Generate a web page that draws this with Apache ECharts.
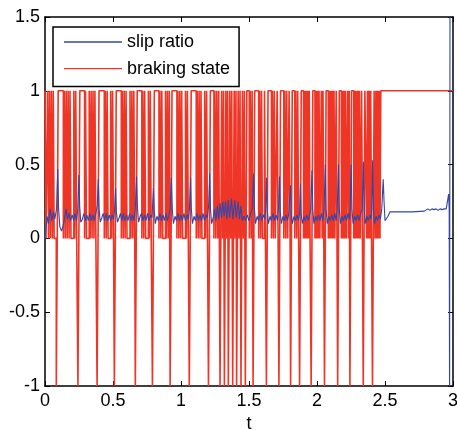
<!DOCTYPE html>
<html>
<head>
<meta charset="utf-8">
<script src="https://cdn.jsdelivr.net/npm/echarts@6/dist/echarts.min.js"></script>
<style>html,body{margin:0;padding:0;background:#fff;}#c{width:457px;height:430px;}</style>
</head>
<body>
<div id="c"></div>
<script>
// x-axis ticks / y-axis ticks
const xTicks = [0, 0.5, 1, 1.5, 2, 2.5, 3];
const yTicks = [-1, -0.5, 0, 0.5, 1, 1.5];

// braking state: switching times (t) and the value held from that time on
const brakeT = [
  0,0.007,0.019,0.026,0.033,0.040,0.047,0.054,0.061,0.067,0.083,0.097,
  0.135,0.142,0.149,0.156,0.163,0.170,0.177,0.184,0.191,0.212,0.219,0.226,0.233,0.242,0.256,
  0.291,0.298,0.305,0.325,0.332,0.339,0.346,0.353,0.360,0.367,0.374,0.383,0.397,
  0.436,0.443,0.450,0.457,0.464,0.483,0.490,0.497,0.504,0.510,0.524,
  0.561,0.568,0.575,0.582,0.589,0.596,0.603,0.625,0.632,0.639,0.646,0.653,0.660,0.664,0.678,
  0.712,0.719,0.726,0.733,0.740,0.760,0.767,0.774,0.781,0.790,0.804,
  0.838,0.845,0.852,0.859,0.866,0.886,0.893,0.900,0.907,0.914,0.920,0.934,
  0.970,0.977,0.984,0.991,0.998,1.005,1.012,1.033,1.040,1.047,1.054,1.061,1.075,
  1.112,1.119,1.126,1.133,1.140,1.147,1.154,1.174,1.181,1.188,1.195,1.202,1.216,
  1.242,1.249,1.256,1.263,1.270,1.277,1.287,1.299,
  1.306,1.313,1.319,1.330,1.337,1.343,1.348,1.359,1.366,1.373,1.380,1.391,1.398,1.404,1.409,1.420,1.427,1.434,1.441,1.452,1.459,1.466,1.473,1.484,
  1.502,1.509,1.516,1.523,1.530,1.542,
  1.571,1.578,1.585,1.592,1.599,1.614,1.621,1.628,1.640,
  1.665,1.672,1.679,1.686,1.693,1.707,1.714,1.720,1.732,
  1.756,1.763,1.770,1.777,1.784,1.795,1.802,1.806,1.818,
  1.837,1.844,1.851,1.858,1.865,1.872,1.884,
  1.901,1.907,1.913,1.919,1.925,1.931,1.937,1.943,1.949,1.957,1.969,
  1.985,1.991,1.997,2.003,2.009,2.015,2.021,2.032,2.038,2.044,2.050,2.055,2.067,
  2.083,2.089,2.095,2.101,2.107,2.113,2.119,2.125,2.131,2.141,2.147,2.152,2.164,
  2.179,2.185,2.191,2.197,2.203,2.209,2.215,2.225,2.231,2.237,2.242,2.254,
  2.270,2.276,2.282,2.288,2.294,2.300,2.306,2.312,2.318,2.328,2.334,2.340,2.352,
  2.365,2.371,2.377,2.383,2.389,2.395,2.401,2.408,2.420,
  2.427,2.433,2.439,2.445,2.451,2.457,2.463,2.469,3
];
const brakeV = [
  1,0,1,0,1,0,1,0,1,0,-1,1,
  0,1,0,1,0,1,0,1,0,1,0,1,0,-1,1,
  0,1,0,1,0,1,0,1,0,1,0,-1,1,
  0,1,0,1,0,1,0,1,0,-1,1,
  0,1,0,1,0,1,0,1,0,1,0,1,0,-1,1,
  0,1,0,1,0,1,0,1,0,-1,1,
  0,1,0,1,0,1,0,1,0,1,-1,1,
  0,1,0,1,0,1,0,1,0,1,0,-1,1,
  0,1,0,1,0,1,0,1,0,1,0,-1,1,
  0,1,0,1,0,1,-1,1,
  0,1,-1,1,0,1,-1,1,0,1,-1,1,0,1,-1,1,0,1,-1,1,0,1,-1,1,
  0,1,0,1,-1,1,
  0,1,0,1,0,1,0,-1,1,
  0,1,0,1,0,1,0,-1,1,
  0,1,0,1,0,1,0,-1,1,
  0,1,0,1,0,-1,1,
  0,1,0,1,0,1,0,1,0,-1,1,
  0,1,0,1,0,1,0,1,0,1,0,-1,1,
  0,1,0,1,0,1,0,1,0,1,0,-1,1,
  0,1,0,1,0,1,0,1,0,1,-1,1,
  0,1,0,1,0,1,0,1,0,1,0,-1,1,
  0,1,0,1,0,1,0,-1,1,
  0,1,0,1,0,1,0,1,1
];

// slip ratio samples
const slipT = [
  0,0.015,0.025,0.038,0.05,0.062,0.072,0.085,0.094,0.1,0.109,0.122,
  0.137,0.155,0.165,0.177,0.187,0.2,0.21,0.222,0.232,0.241,0.249,0.255,0.263,
  0.275,0.286,0.296,0.308,0.318,0.33,0.34,0.352,0.362,0.374,0.384,0.392,0.398,0.406,
  0.418,0.428,0.438,0.45,0.46,0.472,0.482,0.493,0.504,0.512,0.519,0.525,0.533,
  0.545,0.555,0.565,0.577,0.587,0.6,0.61,0.622,0.632,0.644,0.654,0.664,0.673,0.68,0.688,
  0.7,0.71,0.72,0.732,0.742,0.754,0.764,0.776,0.787,0.797,0.804,0.811,
  0.823,0.833,0.846,0.856,0.868,0.878,0.89,0.9,0.912,0.92,0.929,0.936,0.944,
  0.956,0.966,0.978,0.988,1.0,1.01,1.022,1.032,1.044,1.054,1.062,1.07,1.076,1.084,
  1.096,1.106,1.118,1.128,1.14,1.15,1.162,1.172,1.184,1.194,1.203,1.211,1.217,1.225,
  1.237,1.247,1.257,1.267,1.277,1.287,1.297,1.307,1.317,1.327,1.337,1.347,1.357,1.371,1.381,1.396,1.406,1.42,1.43,1.44,1.45,1.464,1.474,1.488,1.498,1.512,1.524,1.534,1.54,1.548,
  1.56,1.57,1.583,1.593,1.606,1.616,1.623,1.629,1.635,1.643,
  1.655,1.665,1.677,1.687,1.699,1.709,1.717,1.724,1.73,1.738,
  1.75,1.76,1.772,1.782,1.793,1.805,1.811,1.819,
  1.831,1.841,1.853,1.863,1.872,1.878,1.884,1.892,
  1.904,1.914,1.926,1.936,1.946,1.954,1.963,1.969,1.977,
  1.989,1.999,2.011,2.021,2.033,2.043,2.052,2.061,2.067,2.075,
  2.087,2.097,2.109,2.119,2.131,2.141,2.149,2.158,2.164,2.172,
  2.184,2.194,2.206,2.216,2.228,2.238,2.244,2.251,2.257,2.265,
  2.277,2.287,2.299,2.309,2.321,2.333,2.341,2.347,2.355,
  2.367,2.377,2.389,2.397,2.403,2.409,2.415,2.423,
  2.435,2.445,2.457,2.466,2.476,2.487,2.493,2.5,2.51,2.522,2.537,2.6,2.7,2.79,2.8,2.815,2.83,2.845,2.86,2.875,2.89,2.905,2.92,2.935,2.95,2.962,2.968,2.972,2.975,2.978
];
const slipV = [
  0,0.15,0.1,0.2,0.12,0.18,0.13,0.2,0.47,0.2,0.08,0.05,
  0.1,0.2,0.13,0.17,0.12,0.16,0.12,0.17,0.12,0.2,0.43,0.22,0.11,
  0.13,0.17,0.12,0.16,0.12,0.17,0.12,0.16,0.12,0.17,0.22,0.40,0.2,0.11,
  0.14,0.17,0.12,0.17,0.12,0.16,0.12,0.16,0.13,0.2,0.34,0.18,0.11,
  0.14,0.17,0.12,0.17,0.12,0.16,0.12,0.17,0.12,0.16,0.12,0.2,0.42,0.2,0.11,
  0.15,0.17,0.12,0.16,0.12,0.17,0.12,0.16,0.14,0.34,0.18,0.1,
  0.15,0.12,0.17,0.12,0.16,0.12,0.17,0.12,0.16,0.2,0.41,0.2,0.1,
  0.15,0.12,0.17,0.12,0.16,0.12,0.17,0.12,0.16,0.13,0.2,0.41,0.2,0.1,
  0.15,0.12,0.17,0.12,0.16,0.12,0.17,0.12,0.16,0.14,0.22,0.44,0.2,0.1,
  0.14,0.2,0.12,0.22,0.13,0.24,0.14,0.25,0.15,0.25,0.13,0.26,0.14,0.27,0.13,0.26,0.14,0.25,0.13,0.22,0.12,0.15,0.12,0.16,0.12,0.17,0.2,0.44,0.2,0.1,
  0.15,0.12,0.17,0.12,0.16,0.13,0.2,0.41,0.18,0.1,
  0.15,0.12,0.17,0.12,0.16,0.12,0.2,0.42,0.18,0.1,
  0.15,0.12,0.16,0.12,0.17,0.36,0.16,0.1,
  0.15,0.12,0.16,0.12,0.17,0.37,0.16,0.1,
  0.15,0.12,0.16,0.12,0.16,0.2,0.46,0.2,0.1,
  0.15,0.12,0.16,0.12,0.17,0.12,0.2,0.5,0.2,0.1,
  0.15,0.12,0.16,0.12,0.17,0.12,0.2,0.5,0.2,0.1,
  0.15,0.12,0.16,0.12,0.17,0.13,0.2,0.5,0.2,0.1,
  0.15,0.12,0.16,0.12,0.17,0.2,0.52,0.2,0.1,
  0.15,0.12,0.16,0.13,0.2,0.53,0.2,0.1,
  0.15,0.12,0.16,0.13,0.2,0.4,0.25,0.12,0.11,0.15,0.18,0.18,0.18,0.185,0.19,0.2,0.19,0.2,0.195,0.2,0.19,0.2,0.195,0.2,0.2,0.21,0.3,0.2,-1.2,1.6
];

const seriesNames = ['slip ratio', 'braking state'];

const brakeData = brakeT.slice(0, Math.min(brakeT.length, brakeV.length)).map((t, i) => [t, brakeV[i]]);
const slipData = slipT.slice(0, Math.min(slipT.length, slipV.length)).map((t, i) => [t, slipV[i]]);

const FONT = 'Liberation Sans, Arial, Helvetica, sans-serif';
const black = '#000';
const RED = '#ef3526';
const BLUE = '#3347a8';
function axisBase(extra) {
  return Object.assign({
    type: 'value',
    axisLine: { show: true, onZero: false, lineStyle: { color: black, width: 1.5 } },
    axisTick: { show: true, inside: true, length: 5, lineStyle: { color: black, width: 1 } },
    splitLine: { show: false },
    axisLabel: { show: false }
  }, extra);
}

const chart = echarts.init(document.getElementById('c'), null, { renderer: 'canvas' });
chart.setOption({
  animation: false,
  backgroundColor: '#fff',
  grid: { left: 45, right: 4, top: 17, bottom: 44, containLabel: false, outerBoundsMode: 'none' },
  legend: {
    data: seriesNames,
    orient: 'vertical',
    left: 53, top: 27,
    padding: [6, 9, 9, 11],
    icon: 'rect',
    itemWidth: 58, itemHeight: 1.3, itemGap: 8.6,
    backgroundColor: '#fff',
    borderColor: black, borderWidth: 1.5,
    textStyle: { color: black, fontSize: 18, fontFamily: FONT, lineHeight: 18 }
  },
  xAxis: [
    axisBase({
      min: xTicks[0], max: xTicks[xTicks.length - 1], interval: xTicks[1] - xTicks[0],
      position: 'bottom',
      axisLabel: { show: true, color: black, fontSize: 18, fontFamily: FONT, margin: 6 },
      name: 't', nameLocation: 'middle', nameGap: 28,
      nameTextStyle: { color: black, fontSize: 18, fontFamily: FONT }
    }),
    axisBase({ min: xTicks[0], max: xTicks[xTicks.length - 1], interval: xTicks[1] - xTicks[0], position: 'top' })
  ],
  yAxis: [
    axisBase({
      min: yTicks[0], max: yTicks[yTicks.length - 1], interval: yTicks[1] - yTicks[0],
      position: 'left',
      axisLabel: { show: true, color: black, fontSize: 18, fontFamily: FONT, margin: 5 }
    }),
    axisBase({ min: yTicks[0], max: yTicks[yTicks.length - 1], interval: yTicks[1] - yTicks[0], position: 'right' })
  ],
  series: [
    {
      name: seriesNames[1], type: 'line', step: 'end', data: brakeData,
      xAxisIndex: 0, yAxisIndex: 0, symbol: 'none', clip: true,
      lineStyle: { color: RED, width: 1.6 }, itemStyle: { color: RED }
    },
    {
      name: seriesNames[0], type: 'line', data: slipData,
      xAxisIndex: 0, yAxisIndex: 0, symbol: 'none', clip: true,
      lineStyle: { color: BLUE, width: 1.1 }, itemStyle: { color: BLUE }
    }
  ]
});
</script>
</body>
</html>
